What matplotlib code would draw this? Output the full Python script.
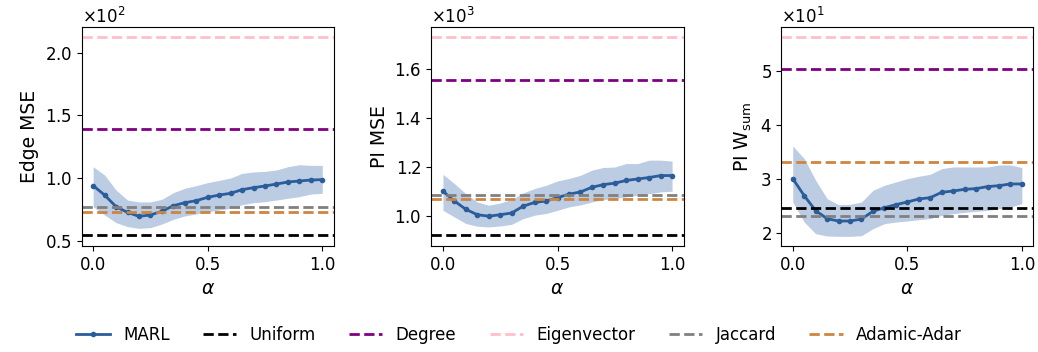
import numpy as np
import matplotlib
matplotlib.use('Agg')
import matplotlib.pyplot as plt

alpha = np.round(np.arange(0, 1.0001, 0.05), 2)

# Edge MSE (real units)
edge_mean = [93.9, 86.4, 77.1, 72.6, 69.4, 70.5, 73.4, 77.9, 80.3, 81.9, 84.6,
             86.4, 87.8, 90.7, 92.3, 93.6, 95.2, 96.8, 97.6, 98.4, 98.7]
edge_hi = [109.0, 102.4, 90.4, 82.4, 80.9, 80.9, 83.0, 88.3, 91.8, 93.9, 96.3,
           98.1, 100.0, 103.7, 104.8, 105.3, 106.4, 109.0, 110.6, 110.1, 110.1]
edge_lo = [77.1, 70.5, 64.4, 61.2, 59.8, 60.4, 63.3, 67.0, 69.7, 71.3, 73.1,
           74.5, 75.8, 78.7, 80.3, 81.1, 82.4, 83.8, 85.1, 87.2, 87.8]
edge_base = {'Uniform': 54.8, 'Degree': 139.4, 'Eigenvector': 212.8,
             'Jaccard': 76.9, 'Adamic-Adar': 72.6}

# PI MSE
pi_mean = [1101, 1061, 1027, 1005, 999, 1005, 1012, 1040, 1055, 1061, 1075,
           1089, 1098, 1117, 1128, 1134, 1145, 1151, 1157, 1165, 1165]
pi_hi = [1170, 1132, 1091, 1057, 1044, 1053, 1067, 1094, 1112, 1125, 1143,
         1153, 1166, 1187, 1198, 1200, 1214, 1214, 1228, 1228, 1224]
pi_lo = [1023, 996, 969, 958, 955, 959, 966, 989, 1003, 1010, 1023,
         1037, 1045, 1057, 1067, 1071, 1078, 1085, 1091, 1098, 1101]
pi_base = {'Uniform': 921, 'Degree': 1556, 'Eigenvector': 1732,
           'Jaccard': 1086, 'Adamic-Adar': 1070}

# PI W_sum
ws_mean = [30.10, 26.96, 24.19, 22.71, 22.28, 22.28, 22.65, 24.07, 24.74, 25.30, 25.79,
           26.35, 26.59, 27.58, 27.82, 28.13, 28.26, 28.63, 28.81, 29.12, 29.12]
ws_hi = [36.14, 33.80, 29.80, 26.41, 25.30, 25.36, 25.79, 27.95, 28.87, 29.49, 30.10,
         30.54, 30.91, 31.95, 32.26, 32.26, 32.26, 32.26, 32.63, 32.63, 32.14]
ws_lo = [25.79, 22.09, 19.94, 19.51, 19.45, 19.45, 19.57, 20.86, 21.79, 22.09, 22.28,
         22.53, 22.71, 23.33, 23.64, 23.88, 24.07, 24.25, 24.56, 24.87, 25.48]
ws_base = {'Uniform': 24.62, 'Degree': 50.31, 'Eigenvector': 56.29,
           'Jaccard': 23.27, 'Adamic-Adar': 33.19}

base_colors = {'Uniform': 'black', 'Degree': 'purple', 'Eigenvector': 'pink',
               'Jaccard': 'gray', 'Adamic-Adar': 'peru'}

panels = [
    ('Edge MSE', edge_mean, edge_lo, edge_hi, edge_base, (45.7, 220.7), [50, 100, 150, 200]),
    ('PI MSE', pi_mean, pi_lo, pi_hi, pi_base, (877, 1773), [1000, 1200, 1400, 1600]),
    ('PI W$_{\\mathrm{sum}}$', ws_mean, ws_lo, ws_hi, ws_base, (17.66, 58.14), [20, 30, 40, 50]),
]

plt.rcParams['font.size'] = 12
fig, axes = plt.subplots(1, 3, figsize=(10.38, 3.52), dpi=100)
fig.subplots_adjust(left=0.0787, right=0.9955, top=0.924, bottom=0.301, wspace=0.388)

line_color = '#2b5d9b'
fill_color = '#b0c4de'

for ax, (ylab, mean, lo, hi, base, ylim, yt) in zip(axes, panels):
    ax.fill_between(alpha, lo, hi, color=fill_color, alpha=0.85, lw=0)
    ax.plot(alpha, mean, '-o', color=line_color, lw=2, ms=3, label='MARL')
    for name, val in base.items():
        ax.axhline(val, color=base_colors[name], ls='--', lw=2, label=name)
    ax.set_ylim(*ylim)
    ax.set_yticks(yt)
    ax.set_xticks([0, 0.5, 1.0])
    ax.set_xlabel(r'$\alpha$', fontsize=13.5)
    ax.set_ylabel(ylab, fontsize=13.5)
    ax.ticklabel_format(axis='y', style='sci', scilimits=(0, 0), useMathText=True)

handles, labels = axes[0].get_legend_handles_labels()
fig.legend(handles, labels, loc='lower center', ncol=6, frameon=False,
           bbox_to_anchor=(0.5, -0.02), fontsize=12)

fig.savefig('out.png', dpi=100)
